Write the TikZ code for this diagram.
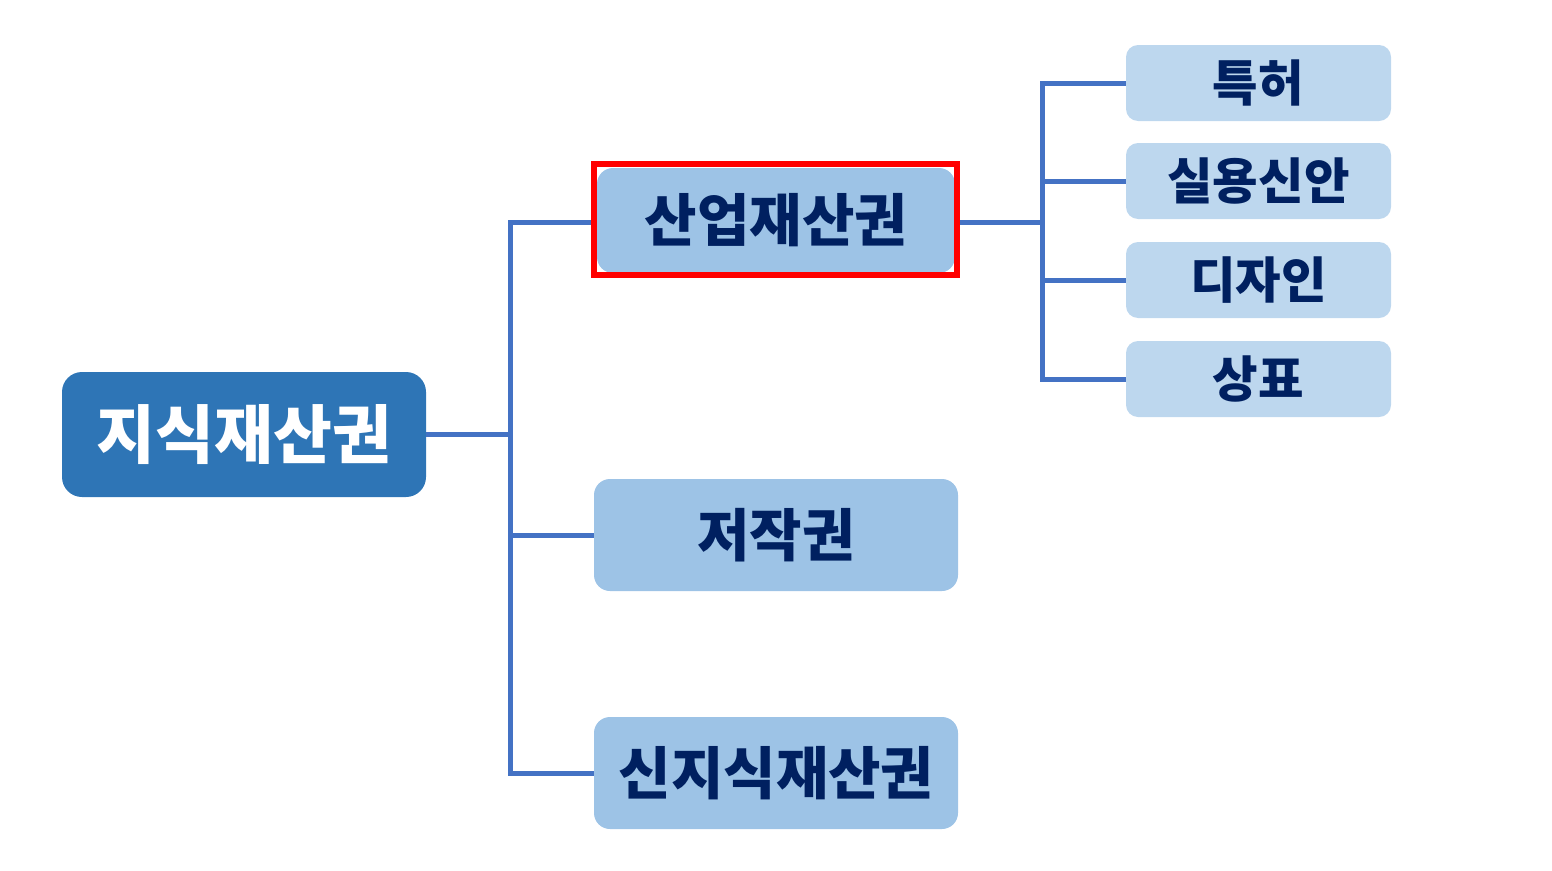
\documentclass[tikz,border=0pt]{standalone}
\usepackage{fontspec}
\setmainfont{Noto Sans CJK KR}
\definecolor{rootfill}{HTML}{2E75B6}
\definecolor{midfill}{HTML}{9DC3E6}
\definecolor{leaffill}{HTML}{BDD7EE}
\definecolor{navy}{HTML}{002060}
\definecolor{conn}{HTML}{4472C4}
\tikzset{
  rootbox/.style={fill=rootfill, rounded corners=20pt, minimum width=364pt, minimum height=125pt, inner sep=0pt, text=white, font=\fontsize{64}{66}\selectfont\bfseries},
  midbox/.style={fill=midfill, rounded corners=16pt, minimum width=364pt, minimum height=112pt, inner sep=0pt, text=navy, font=\fontsize{57}{60}\selectfont\bfseries},
  leafbox/.style={fill=leaffill, rounded corners=12pt, minimum width=265pt, minimum height=76pt, inner sep=0pt, text=navy, font=\fontsize{49.5}{52}\selectfont\bfseries},
  connector/.style={draw=conn, line width=5pt},
}
\begin{document}
\begin{tikzpicture}[x=1pt,y=-1pt]
\useasboundingbox (0,0) rectangle (1552,870);
\node[rootbox] (root) at (244,434.5) {지식재산권};
\node[midbox, minimum width=358pt, minimum height=105pt] (ip) at (776,220.5) {산업재산권};
\node[draw=red, line width=6pt, minimum width=363pt, minimum height=111pt, inner sep=0pt] (hl) at (775.5,219.5) {};
\node[midbox] (cr) at (776,535) {저작권};
\node[midbox] (nk) at (776,773) {신지식재산권};
\node[leafbox] (pat) at (1258.5,83) {특허};
\node[leafbox] (um) at (1258.5,181) {실용신안};
\node[leafbox] (des) at (1258.5,280) {디자인};
\node[leafbox] (tm) at (1258.5,379) {상표};
\coordinate (j1) at (510,434.5);
\coordinate (ipw) at ([yshift=-3pt]hl.west);
\coordinate (ipe) at ([yshift=-3pt]hl.east);
\coordinate (j2) at ([xshift=82pt]ipe);
\draw[connector] (root.east) -- (j1);
\draw[connector] (ipw) -| (j1) |- (nk.west);
\draw[connector] (j1 |- cr.west) -- (cr.west);
\draw[connector] (ipe) -- (j2);
\draw[connector] (pat.west) -| (j2) |- (tm.west);
\draw[connector] (j2 |- um.west) -- (um.west);
\draw[connector] (j2 |- des.west) -- (des.west);
\end{tikzpicture}
\end{document}
